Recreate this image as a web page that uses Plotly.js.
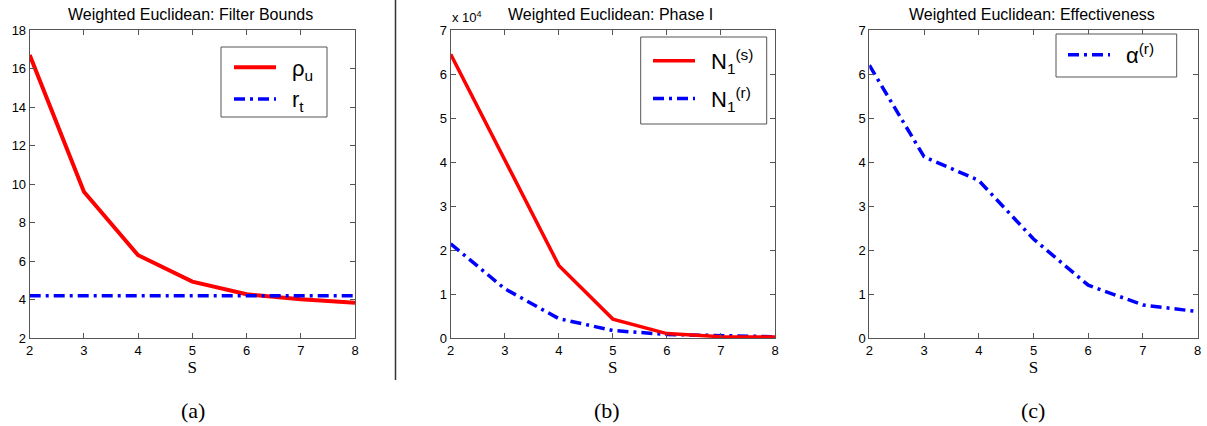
<!DOCTYPE html>
<html>
<head>
<meta charset="utf-8">
<script src="https://cdn.plot.ly/plotly-3.0.1.min.js"></script>
<style>
html,body{margin:0;padding:0;background:#fff;}
#chart{width:1207px;height:426px;}
</style>
</head>
<body>
<div id="chart"></div>
<script>
// ---- data ----
const S = [2, 3, 4, 5, 6, 7, 8];
// (a) filter bounds
const rhoU = [16.7, 9.6, 6.3, 4.93, 4.27, 4.01, 3.83];
const rT = [4.2, 4.2, 4.2, 4.2, 4.2, 4.2, 4.2];
// (b) phase I, in units of 10^4
const N1s = [6.45, 4.05, 1.65, 0.43, 0.1, 0.03, 0.02];
const N1r = [2.14, 1.12, 0.44, 0.17, 0.08, 0.05, 0.03];
// (c) effectiveness
const alphaR = [6.2, 4.12, 3.58, 2.25, 1.2, 0.75, 0.6];

const panelTitles = ['Weighted Euclidean: Filter Bounds', 'Weighted Euclidean: Phase I', 'Weighted Euclidean: Effectiveness'];
const captions = ['(a)', '(b)', '(c)'];
const xLabel = 'S';
const sp = '\u2002';
const seriesNames = [sp + 'ρ<sub>u</sub>', sp + 'r<sub>t</sub>', sp + 'N<sub>1</sub><sup>(s)</sup>', sp + 'N<sub>1</sub><sup>(r)</sup>', sp + 'α<sup>(r)</sup>'];

// ---- layout helpers (pixel -> paper) ----
const W = 1207, H = 426;
const px = v => v / W;
const py = v => 1 - v / H;

const sans = 'Liberation Sans, Arial, sans-serif';
const serif = 'Liberation Serif, Times New Roman, serif';
const red = '#ff0000', blue = '#0000ff';
const dashdot = '11px,5px,3px,5px';

function axisBase(extra) {
  return Object.assign({
    showline: true, mirror: 'ticks', linecolor: '#555', linewidth: 1,
    ticks: 'inside', ticklen: 5, tickcolor: '#555',
    showgrid: false, zeroline: false, fixedrange: true,
    tickfont: {family: sans, size: 13, color: '#000'}
  }, extra);
}

const panels = [
  {x0: 29.7, x1: 355, yr: [2, 18], dt: 2},
  {x0: 450.7, x1: 775, yr: [0, 7], dt: 1},
  {x0: 869.3, x1: 1197.7, yr: [0, 7], dt: 1}
];
const yTop = 30, yBot = 338;

const traces = [
  {x: S, y: rhoU, name: seriesNames[0], mode: 'lines', line: {color: red, width: 4}, xaxis: 'x', yaxis: 'y', legend: 'legend'},
  {x: S, y: rT, name: seriesNames[1], mode: 'lines', line: {color: blue, width: 3.5, dash: dashdot}, xaxis: 'x', yaxis: 'y', legend: 'legend'},
  {x: S, y: N1r, name: seriesNames[3], mode: 'lines', line: {color: blue, width: 3.5, dash: dashdot}, xaxis: 'x2', yaxis: 'y2', legend: 'legend2', legendrank: 2, legendgroup: 'r'},
  {x: S, y: N1s, name: seriesNames[2], mode: 'lines', line: {color: red, width: 3.5}, xaxis: 'x2', yaxis: 'y2', legend: 'legend2', legendrank: 1, legendgroup: 's'},
  {x: S, y: alphaR, name: seriesNames[4], mode: 'lines', line: {color: blue, width: 3.5, dash: dashdot}, xaxis: 'x3', yaxis: 'y3', legend: 'legend3'}
];

// legend boxes (pixel frames)
const legendBoxes = [
  {x0: 221, x1: 327, y0: 47, y1: 117},
  {x0: 640.7, x1: 766.7, y0: 37, y1: 124},
  {x0: 1056, x1: 1176.7, y0: 34, y1: 77}
];

const layout = {
  width: W, height: H,
  margin: {l: 0, r: 0, t: 0, b: 0},
  paper_bgcolor: '#fff', plot_bgcolor: '#fff',
  showlegend: true,
  annotations: [],
  shapes: [
    {type: 'line', xref: 'paper', yref: 'paper', x0: px(395.5), x1: px(395.5), y0: py(0), y1: py(380), line: {color: '#333', width: 1.5}}
  ]
};

legendBoxes.forEach(b => {
  layout.shapes.push({type: 'rect', xref: 'paper', yref: 'paper', layer: 'above',
    x0: px(b.x0), x1: px(b.x1), y0: py(b.y1), y1: py(b.y0),
    fillcolor: '#fff', line: {color: '#555', width: 1}});
});

panels.forEach((p, i) => {
  const k = i === 0 ? '' : String(i + 1);
  layout['xaxis' + k] = axisBase({
    domain: [px(p.x0), px(p.x1)], range: [2, 8], dtick: 1, tick0: 2,
    anchor: 'y' + k,
    title: {text: xLabel, font: {family: serif, size: 17, color: '#000'}, standoff: 3}
  });
  layout['yaxis' + k] = axisBase({
    domain: [py(yBot), py(yTop)], range: p.yr, dtick: p.dt, tick0: 0,
    anchor: 'x' + k
  });
  layout.annotations.push({
    xref: 'paper', yref: 'paper', x: px([190.7, 610.7, 1032][i]), y: py(15),
    text: panelTitles[i], showarrow: false, xanchor: 'center', yanchor: 'middle',
    font: {family: sans, size: 16, color: '#000'}
  });
  layout.annotations.push({
    xref: 'paper', yref: 'paper', x: px([193, 607, 1033][i]), y: py(410),
    text: captions[i], showarrow: false, xanchor: 'center', yanchor: 'middle',
    font: {family: serif, size: 22, color: '#000'}
  });
});

// x 10^4 exponent label for panel (b)
layout.annotations.push({
  xref: 'paper', yref: 'paper', x: px(450), y: py(17),
  text: 'x 10<sup>4</sup>', showarrow: false, xanchor: 'left', yanchor: 'middle',
  font: {family: sans, size: 13, color: '#000'}
});

const legendBase = {
  bgcolor: 'rgba(0,0,0,0)', borderwidth: 0,
  xanchor: 'left', yanchor: 'top',
  font: {family: sans, size: 22, color: '#000'},
  itemwidth: 42, traceorder: 'normal'
};
layout.legend = Object.assign({}, legendBase, {x: px(229), y: py(46.5)});
layout.legend2 = Object.assign({}, legendBase, {x: px(648), y: py(40), traceorder: 'grouped', tracegroupgap: 6});
layout.legend3 = Object.assign({}, legendBase, {x: px(1063), y: py(34)});

Plotly.newPlot('chart', traces, layout, {displayModeBar: false, staticPlot: true});
</script>
</body>
</html>
